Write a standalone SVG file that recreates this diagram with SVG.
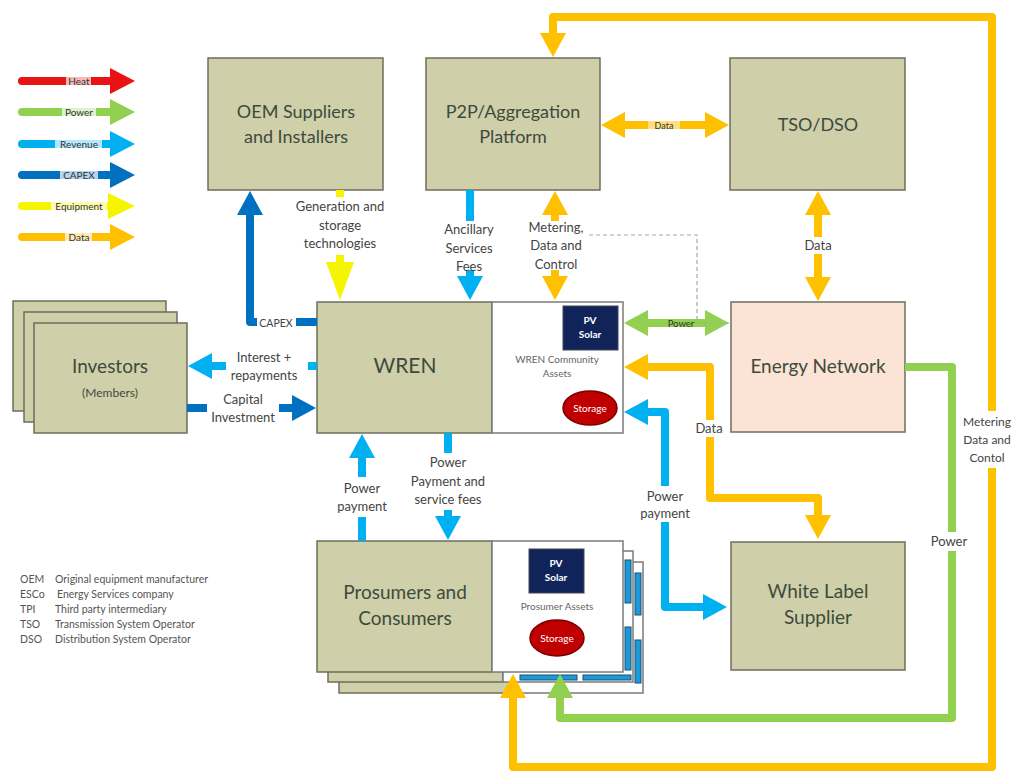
<svg xmlns="http://www.w3.org/2000/svg" width="1016" height="772" viewBox="0 0 1016 772">
<style>
.box{fill:#cfcfa9;stroke:#6e6e5e;stroke-width:1.5}
.asset{fill:#ffffff;stroke:#7a7a7a;stroke-width:1.5}
.bt{font-family:Lato,"Liberation Sans",sans-serif;fill:#3d4b3d;text-anchor:middle}
.lb{font-family:Lato,"Liberation Sans",sans-serif;fill:#444;text-anchor:middle}
.sm{font-family:Lato,"Liberation Sans",sans-serif;fill:#333;text-anchor:middle}
.ab{font-family:Lato,"Liberation Sans",sans-serif;fill:#555;font-size:10.5px}
.pv{fill:#10245a;stroke:#445;stroke-width:1}
.pvt{font-family:Lato,"Liberation Sans",sans-serif;fill:#fff;text-anchor:middle;font-size:10px}
.st{fill:#c00000;stroke:#7a0000;stroke-width:1.5}
.c{fill:none;stroke-width:8;stroke-linejoin:round;stroke-linecap:butt}
.or{stroke:#ffc000}.gr{stroke:#92d050}.lbl{stroke:#00b0f0}.db{stroke:#0070c0}.ye{stroke:#f5f500}
.bg{fill:#fff}
.pb{fill:#1a9ad6;stroke:#1d4f7a;stroke-width:1}
</style>
<defs>
<marker id="h-or" viewBox="0 0 24 26" refX="1" refY="13" markerWidth="24" markerHeight="26" markerUnits="userSpaceOnUse" orient="auto-start-reverse"><path d="M0,0 L24,13 L0,26 z" fill="#ffc000"/></marker>
<marker id="h-gr" viewBox="0 0 24 26" refX="1" refY="13" markerWidth="24" markerHeight="26" markerUnits="userSpaceOnUse" orient="auto-start-reverse"><path d="M0,0 L24,13 L0,26 z" fill="#92d050"/></marker>
<marker id="h-lb" viewBox="0 0 24 26" refX="1" refY="13" markerWidth="24" markerHeight="26" markerUnits="userSpaceOnUse" orient="auto-start-reverse"><path d="M0,0 L24,13 L0,26 z" fill="#00b0f0"/></marker>
<marker id="h-db" viewBox="0 0 24 26" refX="1" refY="13" markerWidth="24" markerHeight="26" markerUnits="userSpaceOnUse" orient="auto-start-reverse"><path d="M0,0 L24,13 L0,26 z" fill="#0070c0"/></marker>
<marker id="h-ye" viewBox="0 0 38 28" refX="1" refY="14" markerWidth="38" markerHeight="28" markerUnits="userSpaceOnUse" orient="auto-start-reverse"><path d="M0,0 L38,14 L0,28 z" fill="#f5f500"/></marker>
</defs>
<rect width="1016" height="772" fill="#fff"/>

<!-- legend -->
<g id="legend">
  <g>
    <line x1="22" y1="81" x2="112" y2="81" stroke="#e81313" stroke-width="8" stroke-linecap="round"/>
    <polygon points="110,68 135,81 110,94" fill="#e81313"/>
    <rect x="66" y="75" width="25" height="12" fill="#fff" opacity="0.7"/>
    <text x="79" y="85" class="sm" style="font-size:10px">Heat</text>
  </g>
  <g>
    <line x1="22" y1="112" x2="112" y2="112" stroke="#92d050" stroke-width="8" stroke-linecap="round"/>
    <polygon points="110,99 135,112 110,125" fill="#92d050"/>
    <rect x="62" y="106" width="34" height="12" fill="#fff" opacity="0.7"/>
    <text x="79" y="116" class="sm" style="font-size:10px">Power</text>
  </g>
  <g>
    <line x1="22" y1="144" x2="112" y2="144" stroke="#00b0f0" stroke-width="8" stroke-linecap="round"/>
    <polygon points="110,131 135,144 110,157" fill="#00b0f0"/>
    <rect x="55" y="138" width="47" height="12" fill="#fff" opacity="0.7"/>
    <text x="79" y="148" class="sm" style="font-size:10px">Revenue</text>
  </g>
  <g>
    <line x1="22" y1="175" x2="112" y2="175" stroke="#0070c0" stroke-width="8" stroke-linecap="round"/>
    <polygon points="110,162 135,175 110,188" fill="#0070c0"/>
    <rect x="60" y="169" width="38" height="12" fill="#fff" opacity="0.7"/>
    <text x="79" y="179" class="sm" style="font-size:10px">CAPEX</text>
  </g>
  <g>
    <line x1="22" y1="206" x2="112" y2="206" stroke="#f5f500" stroke-width="8" stroke-linecap="round"/>
    <polygon points="108,193 135,206 108,219" fill="#f5f500"/>
    <rect x="51" y="200" width="56" height="12" fill="#fff" opacity="0.7"/>
    <text x="79" y="210" class="sm" style="font-size:10px">Equipment</text>
  </g>
  <g>
    <line x1="22" y1="237" x2="112" y2="237" stroke="#ffc000" stroke-width="8" stroke-linecap="round"/>
    <polygon points="110,224 135,237 110,250" fill="#ffc000"/>
    <rect x="65" y="231" width="27" height="12" fill="#fff" opacity="0.7"/>
    <text x="79" y="241" class="sm" style="font-size:10px">Data</text>
  </g>
</g>

<!-- abbreviations -->
<g id="abbreviations">
  <text x="20" y="583" class="ab">OEM</text><text x="55" y="583" class="ab">Original equipment manufacturer</text>
  <text x="20" y="598" class="ab">ESCo</text><text x="57" y="598" class="ab">Energy Services company</text>
  <text x="20" y="613" class="ab">TPI</text><text x="55" y="613" class="ab">Third party intermediary</text>
  <text x="20" y="628" class="ab">TSO</text><text x="55" y="628" class="ab">Transmission System Operator</text>
  <text x="20" y="643" class="ab">DSO</text><text x="55" y="643" class="ab">Distribution System Operator</text>
</g>

<!-- nodes -->
<g id="oem">
  <rect x="208" y="58" width="175" height="132" class="box"/>
  <text x="296" y="118" class="bt" style="font-size:18px">OEM Suppliers</text>
  <text x="296" y="143" class="bt" style="font-size:18px">and Installers</text>
</g>
<g id="p2p">
  <rect x="426" y="58" width="174" height="132" class="box"/>
  <text x="513" y="118" class="bt" style="font-size:18px">P2P/Aggregation</text>
  <text x="513" y="143" class="bt" style="font-size:18px">Platform</text>
</g>
<g id="tso">
  <rect x="730" y="58" width="175" height="132" class="box"/>
  <text x="818" y="131" class="bt" style="font-size:18px">TSO/DSO</text>
</g>
<g id="investors">
  <rect x="13" y="301" width="153" height="110" class="box"/>
  <rect x="24" y="312" width="153" height="110" class="box"/>
  <rect x="34" y="323" width="153" height="110" class="box"/>
  <text x="110" y="373" class="bt" style="font-size:19px">Investors</text>
  <text x="110" y="397" class="bt" style="font-size:12px">(Members)</text>
</g>
<g id="wren">
  <rect x="317" y="302" width="175" height="131" class="box"/>
  <rect x="492" y="302" width="131" height="131" class="asset"/>
  <text x="405" y="373" class="bt" style="font-size:21px">WREN</text>
  <rect x="563" y="306" width="55" height="44" class="pv"/>
  <text x="590" y="324" class="pvt" style="font-weight:bold">PV</text>
  <text x="590" y="338" class="pvt" style="font-weight:bold">Solar</text>
  <text x="557" y="363" class="lb" style="font-size:10px;fill:#666">WREN Community</text>
  <text x="557" y="377" class="lb" style="font-size:10px;fill:#666">Assets</text>
  <ellipse cx="590" cy="408" rx="27" ry="17" class="st"/>
  <text x="590" y="412" class="pvt">Storage</text>
</g>
<g id="energy-network">
  <rect x="731" y="302" width="174" height="130" fill="#fbe4d5" stroke="#6e6e5e" stroke-width="1.5"/>
  <text x="818" y="373" class="bt" style="font-size:19px">Energy Network</text>
</g>
<g id="white-label">
  <rect x="731" y="542" width="174" height="128" class="box"/>
  <text x="818" y="598" class="bt" style="font-size:19px">White Label</text>
  <text x="818" y="624" class="bt" style="font-size:19px">Supplier</text>
</g>
<g id="prosumers">
  <rect x="339" y="562" width="175" height="131" class="box"/>
  <rect x="514" y="562" width="129" height="131" class="asset"/>
  <rect x="635" y="573" width="6" height="42" class="pb"/>
  <rect x="635" y="640" width="6" height="43" class="pb"/>
  <rect x="328" y="551" width="175" height="131" class="box"/>
  <rect x="503" y="551" width="130" height="131" class="asset"/>
  <rect x="625" y="560" width="6" height="43" class="pb"/>
  <rect x="625" y="627" width="6" height="43" class="pb"/>
  <rect x="520" y="675" width="57" height="5" class="pb"/>
  <rect x="583" y="675" width="48" height="5" class="pb"/>
  <rect x="317" y="541" width="175" height="131" class="box"/>
  <rect x="492" y="541" width="131" height="131" class="asset"/>
  <text x="405" y="599" class="bt" style="font-size:19px">Prosumers and</text>
  <text x="405" y="625" class="bt" style="font-size:19px">Consumers</text>
  <rect x="529" y="549" width="55" height="44" class="pv"/>
  <text x="556" y="567" class="pvt" style="font-weight:bold">PV</text>
  <text x="556" y="581" class="pvt" style="font-weight:bold">Solar</text>
  <text x="557" y="610" class="lb" style="font-size:10px;fill:#666">Prosumer Assets</text>
  <ellipse cx="557" cy="638" rx="27" ry="18" class="st"/>
  <text x="557" y="642" class="pvt">Storage</text>
</g>

<!-- connectors -->
<g id="connectors">
  <path d="M553,34 L553,17 L992,17 L992,767 L513,767 L513,697" class="c or" marker-start="url(#h-or)" marker-end="url(#h-or)"/>
  <path d="M624,125 L706,125" class="c or" marker-start="url(#h-or)" marker-end="url(#h-or)"/>
  <path d="M818,214 L818,278" class="c or" marker-start="url(#h-or)" marker-end="url(#h-or)"/>
  <path d="M317,322 L250,322 L250,214" class="c db" marker-end="url(#h-db)"/>
  <path d="M340,190 L340,197" class="c ye"/>
  <path d="M340,255 L340,263" class="c ye" marker-end="url(#h-ye)"/>
  <path d="M470,190 L470,221" class="c lbl"/>
  <path d="M470,270 L470,277" class="c lbl" marker-end="url(#h-lb)"/>
  <path d="M555,221 L555,214" class="c or" marker-end="url(#h-or)"/>
  <path d="M555,270 L555,277" class="c or" marker-end="url(#h-or)"/>
  <path d="M647,323 L706,323" class="c gr" marker-start="url(#h-gr)" marker-end="url(#h-gr)"/>
  <path d="M589,235 L697,235 L697,323 L730,323" fill="none" stroke="#a8a8a8" stroke-width="1.2" stroke-dasharray="4,3"/>
  <path d="M647,367 L710,367 L710,498 L818,498 L818,516" class="c or" marker-start="url(#h-or)" marker-end="url(#h-or)"/>
  <path d="M647,412 L665,412 L665,607 L704,607" class="c lbl" marker-start="url(#h-lb)" marker-end="url(#h-lb)"/>
  <path d="M905,367 L952,367 L952,718 L560,718 L560,697" class="c gr" marker-end="url(#h-gr)"/>
  <path d="M362,541 L362,457" class="c lbl" marker-end="url(#h-lb)"/>
  <path d="M448,433 L448,517" class="c lbl" marker-end="url(#h-lb)"/>
  <path d="M317,366 L211,366" class="c lbl" marker-end="url(#h-lb)"/>
  <path d="M187,408 L293,408" class="c db" marker-end="url(#h-db)"/>

  <rect x="257" y="316" width="39" height="13" class="bg"/>
  <text x="276" y="326.5" class="lb" style="font-size:10.5px">CAPEX</text>
  <text x="340" y="211" class="lb" style="font-size:13px">Generation and</text>
  <text x="340" y="230" class="lb" style="font-size:13px">storage</text>
  <text x="340" y="248" class="lb" style="font-size:13px">technologies</text>
  <text x="469" y="234" class="lb" style="font-size:13px">Ancillary</text>
  <text x="469" y="253" class="lb" style="font-size:13px">Services</text>
  <text x="469" y="271" class="lb" style="font-size:13px">Fees</text>
  <text x="556" y="232" class="lb" style="font-size:13px">Metering,</text>
  <text x="556" y="250" class="lb" style="font-size:13px">Data and</text>
  <text x="556" y="269" class="lb" style="font-size:13px">Control</text>
  <text x="681" y="326.5" class="sm" style="font-size:9.5px">Power</text>
  <rect x="648" y="120" width="32" height="11" fill="#fff" opacity="0.5"/>
  <text x="664" y="128.5" class="sm" style="font-size:9px">Data</text>
  <rect x="800" y="237" width="36" height="17" class="bg"/>
  <text x="818" y="250" class="lb" style="font-size:13px">Data</text>
  <rect x="692" y="420" width="34" height="17" class="bg"/>
  <text x="709" y="433" class="lb" style="font-size:13px">Data</text>
  <rect x="636" y="486" width="60" height="36" class="bg"/>
  <text x="665" y="501" class="lb" style="font-size:13px">Power</text>
  <text x="665" y="518" class="lb" style="font-size:13px">payment</text>
  <rect x="962" y="411" width="54" height="57" class="bg"/>
  <text x="987" y="426" class="lb" style="font-size:12px">Metering</text>
  <text x="987" y="444" class="lb" style="font-size:12px">Data and</text>
  <text x="987" y="462" class="lb" style="font-size:12px">Contol</text>
  <rect x="926" y="532" width="46" height="19" class="bg"/>
  <text x="949" y="546" class="lb" style="font-size:13px">Power</text>
  <rect x="328" y="477" width="68" height="40" class="bg"/>
  <text x="362" y="493" class="lb" style="font-size:13px">Power</text>
  <text x="362" y="511" class="lb" style="font-size:13px">payment</text>
  <rect x="403" y="453" width="90" height="57" class="bg"/>
  <text x="448" y="467" class="lb" style="font-size:13px">Power</text>
  <text x="448" y="486" class="lb" style="font-size:13px">Payment and</text>
  <text x="448" y="504" class="lb" style="font-size:13px">service fees</text>
  <rect x="226" y="347" width="82" height="36" class="bg"/>
  <text x="264" y="362" class="lb" style="font-size:13px">Interest +</text>
  <text x="264" y="380" class="lb" style="font-size:13px">repayments</text>
  <rect x="207" y="390" width="72" height="36" class="bg"/>
  <text x="243" y="404" class="lb" style="font-size:13px">Capital</text>
  <text x="243" y="422" class="lb" style="font-size:13px">Investment</text>
</g>
</svg>
